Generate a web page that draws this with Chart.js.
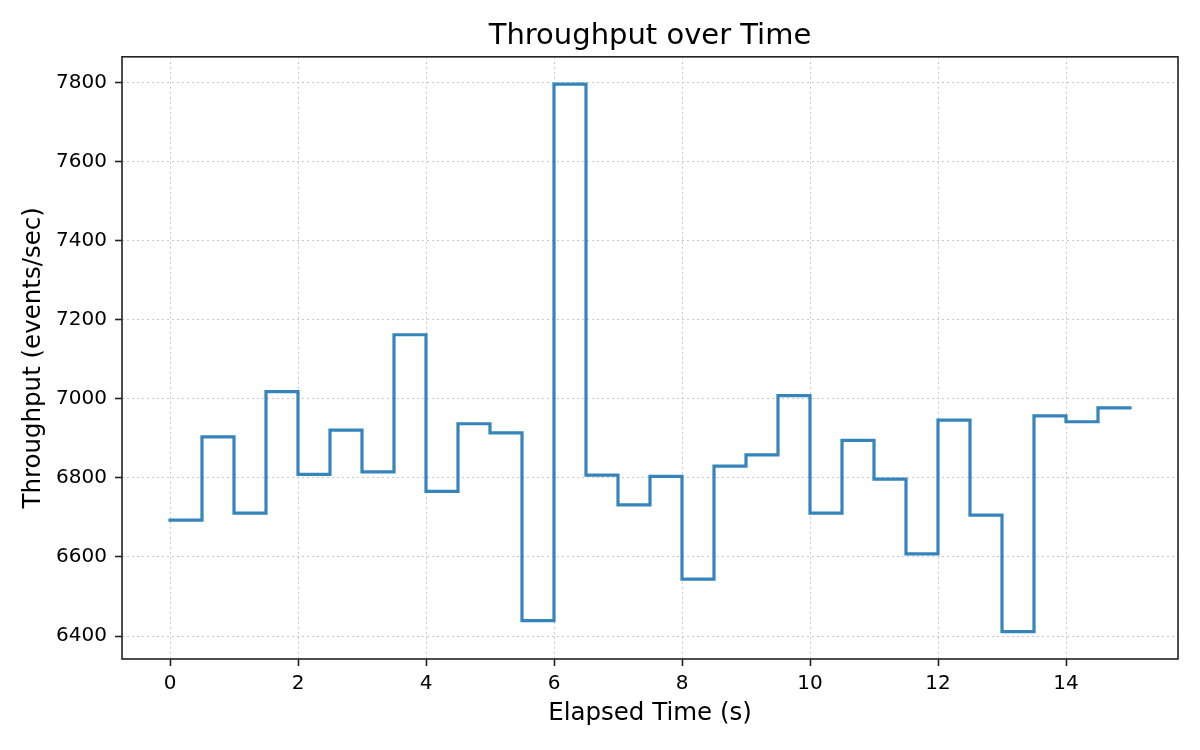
<!DOCTYPE html>
<html>
<head>
<meta charset="utf-8">
<title>Throughput over Time</title>
<script src="https://cdn.jsdelivr.net/npm/chart.js@4.4.1/dist/chart.umd.min.js"></script>
<style>
  html, body { margin: 0; padding: 0; background: #fff; }
  #wrap { width: 1200px; height: 750px; }
</style>
</head>
<body>
<div id="wrap"><canvas id="grafico"></canvas></div>
<script>
// datos (cada valor se mantiene hasta el siguiente tiempo)
const tiempos = [0, 0.5, 1, 1.5, 2, 2.5, 3, 3.5, 4, 4.5, 5, 5.5, 6, 6.5, 7, 7.5,
  8, 8.5, 9, 9.5, 10, 10.5, 11, 11.5, 12, 12.5, 13, 13.5, 14, 14.5, 15];
const throughput = [6693, 6904, 6711, 7018, 6809, 6921, 6815, 7162, 6766, 6937,
  6914, 6439, 7796, 6807, 6732, 6804, 6544, 6830, 6858, 7008,
  6711, 6895, 6797, 6608, 6946, 6706, 6411, 6957, 6942, 6977, 6977];
const ticksY = [6400, 6600, 6800, 7000, 7200, 7400, 7600, 7800];
const ticksX = [0, 2, 4, 6, 8, 10, 12, 14];

const fuente = "'DejaVu Sans', sans-serif";
const negro = '#222';

// marco completo alrededor del area del grafico + titulo centrado sobre los ejes
const marco = {
  id: 'marco',
  afterLayout(chart) {
    const t = chart.titleBlock;
    if (t) {
      t.left = chart.chartArea.left;
      t.right = chart.chartArea.right;
      t.width = t.right - t.left;
    }
  },
  afterDraw(chart) {
    const { ctx, chartArea: a } = chart;
    ctx.save();
    ctx.strokeStyle = negro;
    ctx.lineWidth = 1.6;
    ctx.strokeRect(a.left, a.top, a.right - a.left, a.bottom - a.top);
    ctx.restore();
  }
};

const puntos = tiempos.map((t, i) => ({ x: t, y: throughput[i] }));

new Chart(document.getElementById('grafico'), {
  type: 'line',
  data: {
    datasets: [{
      label: 'Throughput',
      data: puntos,
      stepped: 'before',
      borderColor: 'rgba(31, 119, 180, 0.9)',
      borderWidth: 3.2,
      borderCapStyle: 'square',
      pointRadius: 0,
      fill: false
    }]
  },
  options: {
    responsive: true,
    maintainAspectRatio: false,
    devicePixelRatio: 1,
    animation: false,
    layout: { padding: { left: 0, right: 22, top: 0, bottom: 0 } },
    plugins: {
      legend: { display: false },
      tooltip: { enabled: false },
      title: {
        display: true,
        text: 'Throughput over Time',
        color: '#000',
        font: { family: fuente, size: 29, weight: 'normal' },
        padding: { top: 19, bottom: 3 }
      }
    },
    scales: {
      x: {
        type: 'linear',
        min: -0.75,
        max: 15.75,
        afterBuildTicks: s => { s.ticks = ticksX.map(v => ({ value: v })); },
        afterFit: s => { s.height = 91; },
        ticks: {
          color: '#000',
          font: { family: fuente, size: 20 },
          padding: 6,
          maxRotation: 0,
          callback: v => String(v)
        },
        grid: {
          color: '#c8c8c8',
          lineWidth: 1,
          tickColor: negro,
          tickWidth: 1.6,
          tickLength: 7,
          tickBorderDash: []
        },
        border: { display: false, dash: [2, 3] },
        title: {
          display: true,
          text: 'Elapsed Time (s)',
          color: '#000',
          font: { family: fuente, size: 24.5 },
          padding: { top: 0, bottom: 22 }
        }
      },
      y: {
        type: 'linear',
        min: 6342,
        max: 7865,
        afterBuildTicks: s => { s.ticks = ticksY.map(v => ({ value: v })); },
        afterFit: s => { s.width = 122; },
        ticks: {
          color: '#000',
          font: { family: fuente, size: 20 },
          padding: 8,
          callback: v => String(v)
        },
        grid: {
          color: '#c8c8c8',
          lineWidth: 1,
          tickColor: negro,
          tickWidth: 1.6,
          tickLength: 7,
          tickBorderDash: []
        },
        border: { display: false, dash: [2, 3] },
        title: {
          display: true,
          text: 'Throughput (events/sec)',
          color: '#000',
          font: { family: fuente, size: 24.5 },
          padding: { top: 19, bottom: 0 }
        }
      }
    }
  },
  plugins: [marco]
});
</script>
</body>
</html>
